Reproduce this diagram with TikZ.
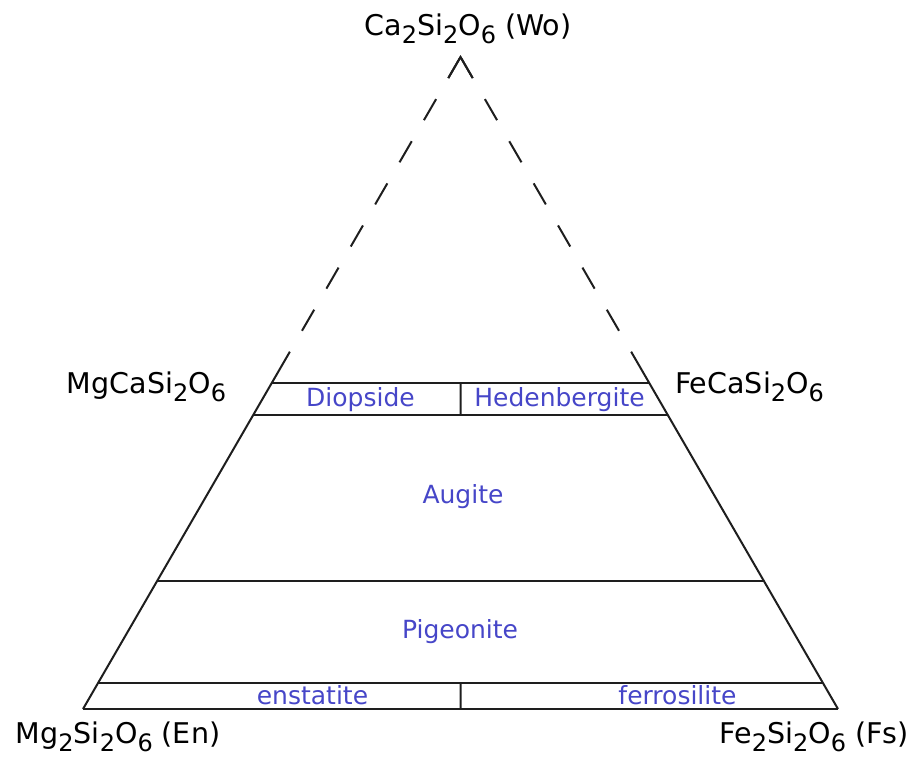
\documentclass[tikz,border=0pt]{standalone}
\usepackage{fontspec}
\setmainfont{DejaVu Sans}
\usetikzlibrary{calc}
\newcommand\ssb[1]{\raisebox{-0.29em}{\fontsize{18}{18}\selectfont #1}}
\definecolor{lblblue}{RGB}{70,70,200}
\definecolor{linegray}{RGB}{30,30,30}
\begin{document}
\begin{tikzpicture}[x=0.75pt,y=-0.75pt,
  edge/.style={line width=1.5pt, draw=linegray},
  dashedge/.style={edge, dash pattern=on 18.25pt off 18.25pt},
  endlbl/.style={font=\fontsize{21.4}{24}\selectfont, anchor=base, inner sep=0pt},
  minlbl/.style={font=\fontsize{18.75}{22}\selectfont, text=lblblue, anchor=base, inner sep=0pt}]
\useasboundingbox (0,0) rectangle (917,757);
% corners
\coordinate (A) at (460.5,57);
\coordinate (BL) at (83,709);
\coordinate (BR) at (838,709);
% points on sides
\coordinate (Ld) at ($(BL)!0.548!(A)$);
\coordinate (Rd) at ($(BR)!0.548!(A)$);
\coordinate (L1) at ($(BL)!0.5!(A)$);
\coordinate (R1) at ($(BR)!0.5!(A)$);
\coordinate (L2) at ($(BL)!0.451!(A)$);
\coordinate (R2) at ($(BR)!0.451!(A)$);
\coordinate (L3) at ($(BL)!0.196!(A)$);
\coordinate (R3) at ($(BR)!0.196!(A)$);
\coordinate (L4) at ($(BL)!0.04!(A)$);
\coordinate (R4) at ($(BR)!0.04!(A)$);
\coordinate (T1) at ($(L1)!0.5!(R1)$);
\coordinate (T2) at ($(L2)!0.5!(R2)$);
\coordinate (B1) at ($(L4)!0.5!(R4)$);
\coordinate (B2) at ($(BL)!0.5!(BR)$);
\coordinate (Aa) at ($(A)!0.0714!(Ld)$);
\coordinate (Ab) at ($(A)!0.0714!(Rd)$);
% sides
\draw[edge] (BL) -- (Ld);
\draw[edge] (BR) -- (Rd);
\draw[dashedge] (A) -- (Ld);
\draw[dashedge] (A) -- (Rd);
\draw[edge, line join=miter] (Aa) -- (A) -- (Ab);
\draw[edge] (BL) -- (BR);
% horizontal boundaries
\draw[edge] (L1) -- (R1);
\draw[edge] (L2) -- (R2);
\draw[edge] (L3) -- (R3);
\draw[edge] (L4) -- (R4);
\draw[edge] (T1) -- (T2);
\draw[edge] (B1) -- (B2);
% end-member labels
\node[endlbl] (wo) at (468,35) {Ca\ssb{2}Si\ssb{2}O\ssb{6} (Wo)};
\node[endlbl] (di) at (146.5,393) {MgCaSi\ssb{2}O\ssb{6}};
\node[endlbl] (hd) at (749.5,393) {FeCaSi\ssb{2}O\ssb{6}};
\node[endlbl] (en) at (118,743) {Mg\ssb{2}Si\ssb{2}O\ssb{6} (En)};
\node[endlbl] (fs) at (814,743) {Fe\ssb{2}Si\ssb{2}O\ssb{6} (Fs)};
% mineral names
\node[minlbl] (diop) at (360.5,406) {Diopside};
\node[minlbl] (hed) at (559.5,406) {Hedenbergite};
\node[minlbl] (aug) at (463,503) {Augite};
\node[minlbl] (pig) at (460,638) {Pigeonite};
\node[minlbl] (ens) at (312.5,704) {enstatite};
\node[minlbl] (fer) at (677.5,704) {ferrosilite};
\end{tikzpicture}
\end{document}
